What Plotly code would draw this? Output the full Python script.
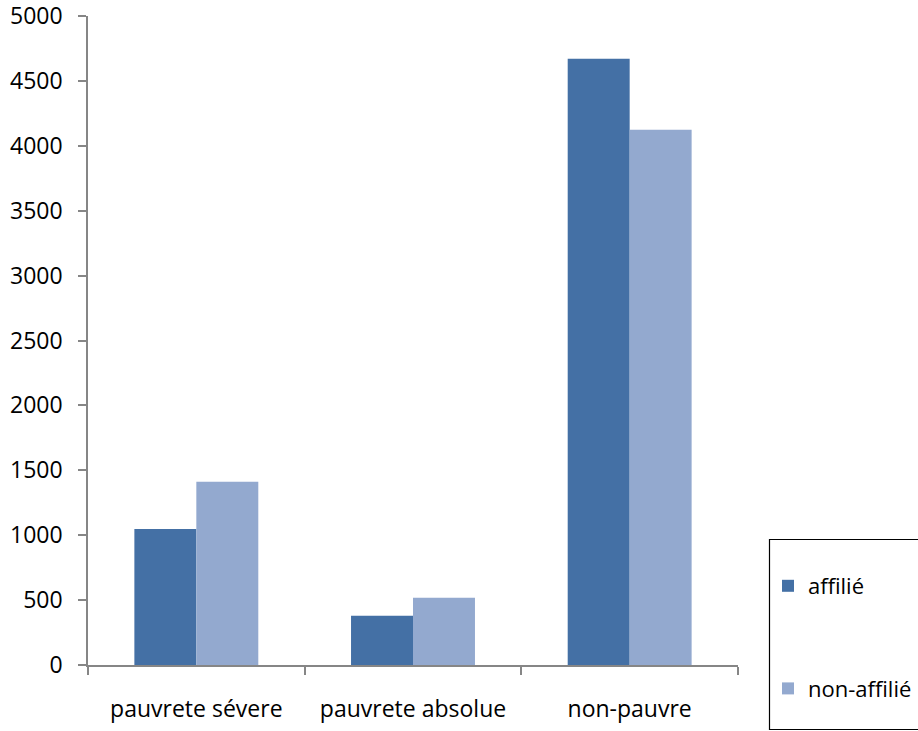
import plotly.graph_objects as go

categories = ["pauvrete sévere", "pauvrete absolue", "non-pauvre"]
affilie = [1048, 380, 4671]
non_affilie = [1412, 518, 4124]
series_names = ["affilié", "non-affilié"]
y_ticks = list(range(0, 5001, 500))

font_family = "Open Sans, Noto Sans, Liberation Sans, sans-serif"
axis_grey = "#868686"

fig = go.Figure()
fig.add_trace(go.Bar(x=categories, y=affilie, name=series_names[0],
                     marker=dict(color="#4470A5", line=dict(width=0)),
                     legendgroup="a"))
fig.add_trace(go.Bar(x=categories, y=non_affilie, name=series_names[1],
                     marker=dict(color="#93A9CF", line=dict(width=0)),
                     legendgroup="b"))

W, H = 918, 731
L, R, T, B = 88, 180, 16, 66
pw, ph = W - L - R, H - T - B

def px_x(x):
    return (x - L) / pw

def px_y(y):
    return (H - B - y) / ph

fig.update_layout(
    width=W, height=H,
    margin=dict(l=L, r=R, t=T, b=B, pad=0, autoexpand=False),
    paper_bgcolor="white", plot_bgcolor="white",
    font=dict(family=font_family, size=23, color="#000000"),
    barmode="group", bargap=0.428, bargroupgap=0,
    showlegend=True,
    legend=dict(x=px_x(768), y=px_y(565), xanchor="left", yanchor="top",
                bgcolor="rgba(0,0,0,0)", borderwidth=0,
                tracegroupgap=71, font=dict(size=22),
                traceorder="grouped"),
    shapes=[dict(type="rect", xref="paper", yref="paper",
                 x0=px_x(769.5), x1=px_x(940), y0=px_y(539.5), y1=px_y(729.5),
                 line=dict(color="#000000", width=1.2), fillcolor="rgba(0,0,0,0)",
                 layer="above")],
)

fig.update_xaxes(
    showline=True, linecolor=axis_grey, linewidth=1.5,
    ticks="outside", ticklen=8, tickcolor=axis_grey, tickwidth=1.5,
    tickson="boundaries", showgrid=False, zeroline=False,
    ticklabelstandoff=23, ticklabeloverflow="allow",
)
fig.update_yaxes(
    range=[0, 5000], tickvals=y_ticks,
    showline=True, linecolor=axis_grey, linewidth=1.5,
    ticks="outside", ticklen=8, tickcolor=axis_grey, tickwidth=1.5,
    showgrid=False, zeroline=False, ticklabelstandoff=11,
    ticklabeloverflow="allow",
)

fig.write_html("out.html")
